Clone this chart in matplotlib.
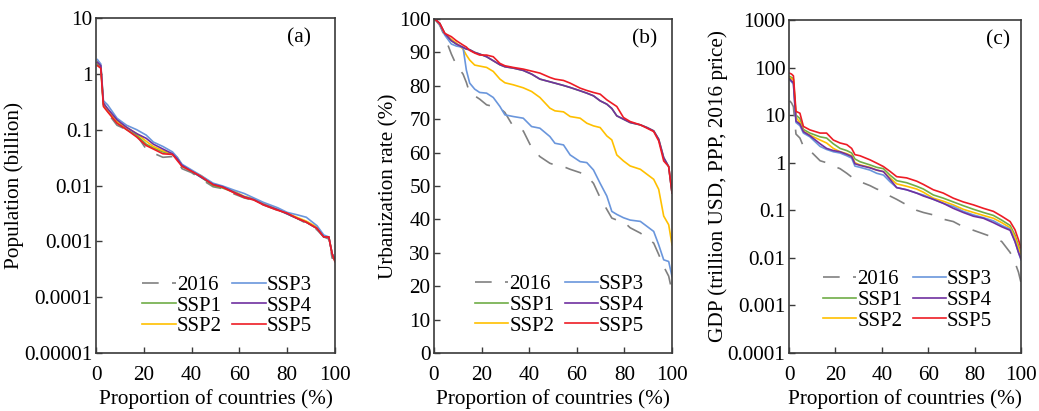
import numpy as np
import matplotlib
matplotlib.use("Agg")
from matplotlib import pyplot as plt
from matplotlib.ticker import FixedLocator, NullLocator

plt.rcParams['font.family'] = ['Liberation Serif', 'DejaVu Serif']
plt.rcParams['font.size'] = 15

series_names = ["2016", "SSP1", "SSP2", "SSP3", "SSP4", "SSP5"]
series_colours = ["#808080", "#70AD47", "#FFC000", "#6A96DC", "#7030A0", "#EE1C25"]

# (a) population, billion
pop_x = [0.6, 2, 3.1, 4.8, 8.8, 12.8, 17, 21, 24, 28, 32, 34, 36, 40, 44, 49, 53, 58,
         62, 66, 70, 76, 80, 84, 88, 92.5, 95.3, 97.4, 98.8, 100]
pop_2016 = [1.7, 1.4, 0.28, 0.2, 0.12, 0.1, 0.08, 0.045, 0.038, 0.032, 0.033, 0.028, 0.02,
            0.017, 0.013, 0.0095, 0.0088, 0.007, 0.006, 0.0054, 0.0045, 0.0036, 0.0031,
            0.0026, 0.0021, 0.0016, 0.0012, 0.0011, 0.0005, 0.0005]
pop_ssp1 = [1.5, 1.3, 0.28, 0.22, 0.14, 0.1, 0.08, 0.055, 0.047, 0.04, 0.036, 0.03, 0.022,
            0.018, 0.014, 0.01, 0.009, 0.0075, 0.0062, 0.0056, 0.0046, 0.0037, 0.0031,
            0.0026, 0.0022, 0.0017, 0.0012, 0.0012, 0.0006, 0.00045]
pop_ssp2 = [1.6, 1.4, 0.3, 0.23, 0.14, 0.11, 0.085, 0.062, 0.05, 0.042, 0.037, 0.032, 0.023,
            0.018, 0.015, 0.0105, 0.0095, 0.0078, 0.0064, 0.0058, 0.0048, 0.0037, 0.0032,
            0.0027, 0.0023, 0.0018, 0.0012, 0.0012, 0.0006, 0.00045]
pop_ssp3 = [1.8, 1.5, 0.33, 0.28, 0.16, 0.12, 0.1, 0.08, 0.06, 0.05, 0.04, 0.032, 0.024,
            0.019, 0.015, 0.011, 0.0098, 0.0082, 0.0072, 0.006, 0.005, 0.004, 0.0033,
            0.003, 0.0027, 0.0019, 0.0013, 0.0012, 0.0006, 0.0005]
pop_ssp4 = [1.6, 1.4, 0.3, 0.24, 0.15, 0.11, 0.085, 0.07, 0.055, 0.045, 0.037, 0.03, 0.023,
            0.018, 0.014, 0.0105, 0.0095, 0.0075, 0.0063, 0.0056, 0.0046, 0.0037, 0.0031,
            0.0026, 0.0022, 0.0017, 0.0012, 0.0012, 0.0006, 0.00045]
pop_ssp5 = [1.4, 1.26, 0.26, 0.21, 0.13, 0.1, 0.074, 0.052, 0.045, 0.037, 0.036, 0.028, 0.022,
            0.018, 0.0145, 0.0103, 0.0093, 0.0073, 0.0061, 0.0055, 0.0045, 0.0036, 0.0032,
            0.0026, 0.0022, 0.0017, 0.0012, 0.0012, 0.0006, 0.00043]

# (b) urbanization rate, %
urb_x = [0.3, 2.4, 4.5, 7.3, 9.4, 12.2, 13.6, 15.0, 17.1, 19.2, 22.1, 24.9, 27.7, 29.8,
         33.3, 37.5, 41.0, 44.5, 48.7, 50.8, 54.4, 57.2, 61.4, 64.2, 67.0, 69.8, 72.6,
         74.7, 76.8, 79.6, 82.4, 86.7, 89.5, 92.3, 94.4, 96.5, 98.6, 100]
urb_2016 = [100, 98.2, 94.7, 89.5, 86.2, 83.5, 81.0, 77.8, 77.0, 76.0, 74.3, 73.8, 73.3,
            72.0, 67.8, 66.5, 61.5, 58.8, 56.8, 56.3, 55.8, 55.0, 54.0, 53.0, 50.8, 46.5,
            43.0, 40.4, 39.8, 39.4, 37.5, 35.9, 34.4, 32.9, 29.5, 25.9, 23.0, 18.4]
urb_ssp1 = [100, 98.7, 95.7, 93.5, 92.5, 91.5, 91.0, 90.8, 90.0, 89.5, 88.7, 87.5, 86.3,
            85.7, 85.3, 84.6, 83.5, 82.0, 81.2, 80.8, 80.1, 79.5, 78.5, 77.8, 77.0, 75.5,
            74.5, 73.2, 71.0, 70.0, 69.0, 68.3, 67.5, 66.5, 64.0, 58.5, 55.8, 47.9]
urb_ssp2 = [100, 98.2, 95.7, 93.9, 92.8, 91.0, 89.2, 87.7, 86.2, 85.9, 85.5, 84.3, 82.0,
            80.9, 80.3, 79.4, 78.3, 76.5, 73.3, 72.5, 72.2, 70.8, 70.3, 68.8, 68.0, 67.5,
            65.0, 63.8, 59.3, 57.5, 56.0, 55.0, 53.5, 52.0, 49.0, 41.0, 38.4, 32.4]
urb_ssp3 = [100, 98.2, 95.2, 92.5, 91.9, 91.5, 84.7, 80.8, 79.0, 78.0, 77.8, 76.5, 73.8,
            71.3, 70.8, 70.3, 67.8, 67.3, 64.8, 62.8, 62.3, 59.3, 57.3, 57.0, 54.8, 50.8,
            47.0, 42.4, 41.5, 40.5, 39.8, 39.4, 37.9, 36.4, 32.4, 27.9, 27.4, 22.9]
urb_ssp4 = [100, 98.7, 95.7, 93.5, 92.5, 91.5, 91.0, 90.8, 90.0, 89.5, 88.7, 87.5, 86.3,
            85.7, 85.3, 84.6, 83.5, 82.0, 81.2, 80.8, 80.1, 79.5, 78.5, 77.8, 77.0, 75.5,
            74.5, 73.2, 71.0, 70.0, 69.0, 68.3, 67.5, 66.5, 64.0, 58.5, 55.8, 47.9]
urb_ssp5 = [100, 98.7, 95.7, 94.7, 93.5, 92.2, 91.6, 90.6, 89.8, 89.2, 89.2, 88.7, 86.7,
            86.0, 85.5, 85.0, 84.4, 83.8, 82.5, 82.0, 81.6, 80.8, 79.3, 78.6, 78.0, 77.5,
            75.8, 74.8, 73.8, 70.5, 69.3, 68.3, 67.3, 66.3, 63.5, 57.5, 55.8, 47.9]

# (c) GDP, trillion USD (PPP, 2016 price)
gdp_x = [0.3, 1.1, 1.9, 3.0, 4.7, 6.2, 9.0, 13.4, 16.2, 19.1, 22.0, 24.9, 27.0, 28.4, 30.6,
         34.9, 37.8, 40.7, 43.5, 46.4, 50.7, 55.0, 57.9, 62.2, 66.5, 70.8, 75.1, 79.5,
         83.8, 88.1, 91.7, 95.3, 97.4, 98.9, 100]
gdp_2016 = [20, 18, 15, 4.0, 3.3, 2.2, 1.8, 1.1, 1.0, 0.85, 0.75, 0.6, 0.5, 0.48, 0.4, 0.33,
            0.28, 0.25, 0.2, 0.17, 0.13, 0.1, 0.09, 0.08, 0.065, 0.058, 0.045, 0.038, 0.032,
            0.027, 0.022, 0.013, 0.008, 0.005, 0.003]
gdp_ssp1 = [65, 62, 58, 10, 8.5, 5.0, 4.2, 3.5, 3.3, 2.5, 2.0, 1.8, 1.6, 1.2, 1.05, 0.9, 0.8,
            0.75, 0.55, 0.42, 0.38, 0.32, 0.28, 0.21, 0.18, 0.15, 0.125, 0.105, 0.09, 0.078,
            0.062, 0.048, 0.03, 0.018, 0.013]
gdp_ssp2 = [62, 58, 55, 9, 7, 4.6, 3.8, 3.0, 2.6, 2.0, 1.7, 1.55, 1.4, 1.0, 0.9, 0.8, 0.7,
            0.65, 0.48, 0.36, 0.32, 0.28, 0.24, 0.18, 0.155, 0.13, 0.105, 0.09, 0.078,
            0.068, 0.055, 0.043, 0.027, 0.016, 0.012]
gdp_ssp3 = [55, 50, 45, 7, 6, 4.2, 3.5, 2.2, 1.9, 1.7, 1.6, 1.4, 1.25, 0.85, 0.8, 0.7, 0.6,
            0.55, 0.4, 0.3, 0.27, 0.23, 0.21, 0.17, 0.14, 0.12, 0.095, 0.08, 0.07, 0.06,
            0.048, 0.04, 0.022, 0.013, 0.009]
gdp_ssp4 = [58, 52, 48, 7.5, 6.5, 4.5, 3.7, 2.5, 2.0, 1.8, 1.7, 1.5, 1.35, 0.95, 0.88, 0.78,
            0.7, 0.65, 0.45, 0.3, 0.27, 0.23, 0.2, 0.17, 0.14, 0.11, 0.09, 0.075, 0.068,
            0.055, 0.045, 0.038, 0.022, 0.013, 0.0095]
gdp_ssp5 = [76, 73, 67, 12, 11, 5.8, 4.9, 4.2, 4.2, 3.0, 2.6, 2.4, 2.0, 1.48, 1.4, 1.15, 0.98,
            0.83, 0.66, 0.51, 0.48, 0.41, 0.35, 0.27, 0.23, 0.18, 0.15, 0.13, 0.11, 0.095,
            0.075, 0.058, 0.039, 0.024, 0.016]

pop_ticks = [1e-5, 1e-4, 1e-3, 1e-2, 0.1, 1, 10]
pop_labels = ["0.00001", "0.0001", "0.001", "0.01", "0.1", "1", "10"]
urb_ticks = [0, 10, 20, 30, 40, 50, 60, 70, 80, 90, 100]
gdp_ticks = [1e-4, 1e-3, 1e-2, 0.1, 1, 10, 100, 1000]
gdp_labels = ["0.0001", "0.001", "0.01", "0.1", "1", "10", "100", "1000"]
x_ticks = [0, 20, 40, 60, 80, 100]

panels = [
    dict(x=pop_x, ys=[pop_2016, pop_ssp1, pop_ssp2, pop_ssp3, pop_ssp4, pop_ssp5],
         log=True, ylim=(1e-5, 10), ticks=pop_ticks, labels=pop_labels,
         ylabel="Population (billion)", tag="(a)", tag_x=0.85, leg=(0.99, -0.012),
         rect=[0.0924, 0.1411, 0.2300, 0.8151]),
    dict(x=urb_x, ys=[urb_2016, urb_ssp1, urb_ssp2, urb_ssp3, urb_ssp4, urb_ssp5],
         log=False, ylim=(0, 100), ticks=urb_ticks, labels=[str(t) for t in urb_ticks],
         ylabel="Urbanization rate (%)", tag="(b)", tag_x=0.886, leg=(0.97, -0.01),
         rect=[0.4177, 0.1411, 0.2291, 0.8127]),
    dict(x=gdp_x, ys=[gdp_2016, gdp_ssp1, gdp_ssp2, gdp_ssp3, gdp_ssp4, gdp_ssp5],
         log=True, ylim=(1e-4, 1000), ticks=gdp_ticks, labels=gdp_labels,
         ylabel="GDP (trillion USD, PPP, 2016 price)", tag="(c)", tag_x=0.90,
         leg=(0.965, 0.005), rect=[0.7594, 0.1411, 0.2233, 0.8102]),
]

fig = plt.figure(figsize=(10.39, 4.11), dpi=100)
frame_colour = "#3a3a3a"

for p in panels:
    ax = fig.add_axes(p["rect"])
    for name, colour, y in zip(series_names, series_colours, p["ys"]):
        if name == "2016":
            ax.plot(p["x"], y, color=colour, lw=1.2, dashes=(10, 8), label=name)
        else:
            ax.plot(p["x"], y, color=colour, lw=1.2, label=name)
    if p["log"]:
        ax.set_yscale("log")
    ax.set_xlim(0, 100)
    ax.set_ylim(*p["ylim"])
    ax.yaxis.set_major_locator(FixedLocator(p["ticks"]))
    ax.set_yticklabels(p["labels"])
    ax.yaxis.set_minor_locator(NullLocator())
    ax.set_xticks(x_ticks)
    ax.tick_params(direction="in", length=4, width=1, color=frame_colour,
                   labelsize=15.3)
    ax.tick_params(axis="x", pad=9)
    ax.tick_params(axis="y", pad=2.5)
    for s in ax.spines.values():
        s.set_color(frame_colour)
        s.set_linewidth(1.2)
    ax.set_xlabel("Proportion of countries (%)", fontsize=15.3, labelpad=3)
    ax.set_ylabel(p["ylabel"], fontsize=15.3, labelpad=0)
    ax.text(p["tag_x"], 0.94, p["tag"], transform=ax.transAxes, ha="center",
            va="center", fontsize=15.5)
    ax.legend(loc="lower right", bbox_to_anchor=p["leg"], ncol=2, frameon=False,
              fontsize=15, handlelength=1.6, handletextpad=0.05, columnspacing=0.5,
              labelspacing=0.05, borderaxespad=0.6)

fig.savefig("out.png", dpi=100)
